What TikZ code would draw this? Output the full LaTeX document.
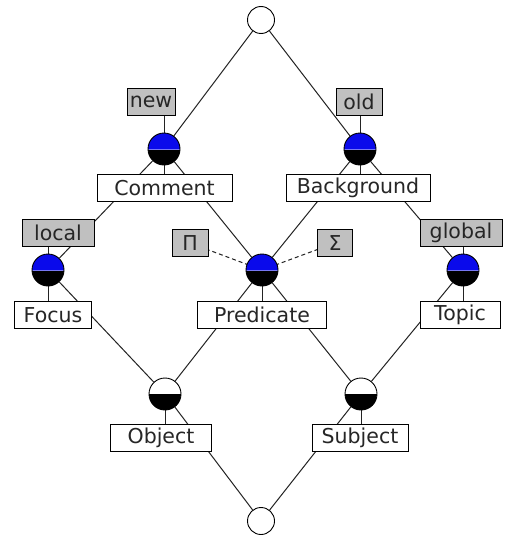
\documentclass[tikz,border=0pt]{standalone}
\usepackage{fontspec}
\setmainfont{DejaVu Sans}
\pgfdeclarelayer{background}
\pgfsetlayers{background,main}
\definecolor{lblgray}{RGB}{192,192,192}
\definecolor{cblue}{RGB}{10,10,235}
\definecolor{edgec}{RGB}{35,35,35}
\tikzset{
  lbl/.style={draw=black, line width=0.9pt, font=\fontsize{20.5}{20.5}\selectfont, inner sep=0pt, minimum height=26.5pt, text=black!85},
  attr/.style={lbl, fill=lblgray},
  objl/.style={lbl, fill=white},
  edge/.style={draw=edgec, line width=1pt},
  lline/.style={draw=edgec, line width=1pt},
  dline/.style={draw=edgec, line width=1pt, dash pattern=on 4pt off 3pt},
  cbase/.style={circle, draw=black, line width=0.9pt, minimum size=32pt, inner sep=0pt},
  cfull/.style={cbase, path picture={
      \fill[cblue] (path picture bounding box.north west) rectangle (path picture bounding box.east);
      \fill[black] (path picture bounding box.west) rectangle (path picture bounding box.south east);
      \draw[cblue!55!white, line width=0.8pt] (path picture bounding box.west) -- (path picture bounding box.east);}},
  chalf/.style={cbase, path picture={
      \fill[white] (path picture bounding box.north west) rectangle (path picture bounding box.east);
      \fill[black] (path picture bounding box.west) rectangle (path picture bounding box.south east);}},
  cempty/.style={cbase, fill=white, minimum size=27pt},
}
\begin{document}
\begin{tikzpicture}[x=1pt,y=-1pt]
\useasboundingbox (0,0) rectangle (506,535);
% labels
\node[attr, minimum width=48pt] (new) at (151,102) {new};
\node[attr, minimum width=46pt] (old) at (359,102) {old};
\node[attr, minimum width=72pt] (local) at (58,233) {local};
\node[attr, minimum width=82pt] (global) at (461,233) {global};
\node[attr, minimum width=36pt, minimum height=27pt] (pi) at (190,243) {Π};
\node[attr, minimum width=35pt, minimum height=27pt] (sigma) at (335,243) {Σ};
\node[objl, minimum width=135pt] (comment) at (164.5,188) {Comment};
\node[objl, minimum width=144pt] (background) at (358,188) {Background};
\node[objl, minimum width=77pt] (focus) at (53,315) {Focus};
\node[objl, minimum width=129pt] (predicate) at (262,315) {Predicate};
\node[objl, minimum width=80pt] (topic) at (460,315) {Topic};
\node[objl, minimum width=101pt] (object) at (161,438) {Object};
\node[objl, minimum width=96pt] (subject) at (360,438) {Subject};
% circles
\node[cempty] (cTop) at (261,20) {};
\node[cfull] (cCom) at (164,149) {};
\node[cfull] (cBack) at (360,149) {};
\node[cfull] (cFoc) at (48,270) {};
\node[cfull] (cPred) at (262,270) {};
\node[cfull] (cTopic) at (463,270) {};
\node[chalf] (cObj) at (165,394) {};
\node[chalf] (cSub) at (361,394) {};
\node[cempty] (cBot) at (261,521) {};
\begin{pgfonlayer}{background}
\fill[white] (0,0) rectangle (506,535);
% lattice edges
\draw[edge] (cTop) -- (cCom);
\draw[edge] (cTop) -- (cBack);
\draw[edge] (cCom) -- (cFoc);
\draw[edge] (cCom) -- (cPred);
\draw[edge] (cBack) -- (cPred);
\draw[edge] (cBack) -- (cTopic);
\draw[edge] (cFoc) -- (cObj);
\draw[edge] (cPred) -- (cObj);
\draw[edge] (cPred) -- (cSub);
\draw[edge] (cTopic) -- (cSub);
\draw[edge] (cObj) -- (cBot);
\draw[edge] (cSub) -- (cBot);
% label lines
\draw[lline] (cCom.center) -- (cCom.center |- new.center);
\draw[lline] (cCom.center) -- (cCom.center |- comment.center);
\draw[lline] (cBack.center) -- (cBack.center |- old.center);
\draw[lline] (cBack.center) -- (cBack.center |- background.center);
\draw[lline] (cFoc.center) -- (cFoc.center |- local.center);
\draw[lline] (cFoc.center) -- (cFoc.center |- focus.center);
\draw[lline] (cPred.center) -- (cPred.center |- predicate.center);
\draw[dline] (cPred.center) -- (pi.center);
\draw[dline] (cPred.center) -- (sigma.center);
\draw[lline] (cTopic.center) -- (cTopic.center |- global.center);
\draw[lline] (cTopic.center) -- (cTopic.center |- topic.center);
\draw[lline] (cObj.center) -- (cObj.center |- object.center);
\draw[lline] (cSub.center) -- (cSub.center |- subject.center);
\end{pgfonlayer}
\end{tikzpicture}
\end{document}
